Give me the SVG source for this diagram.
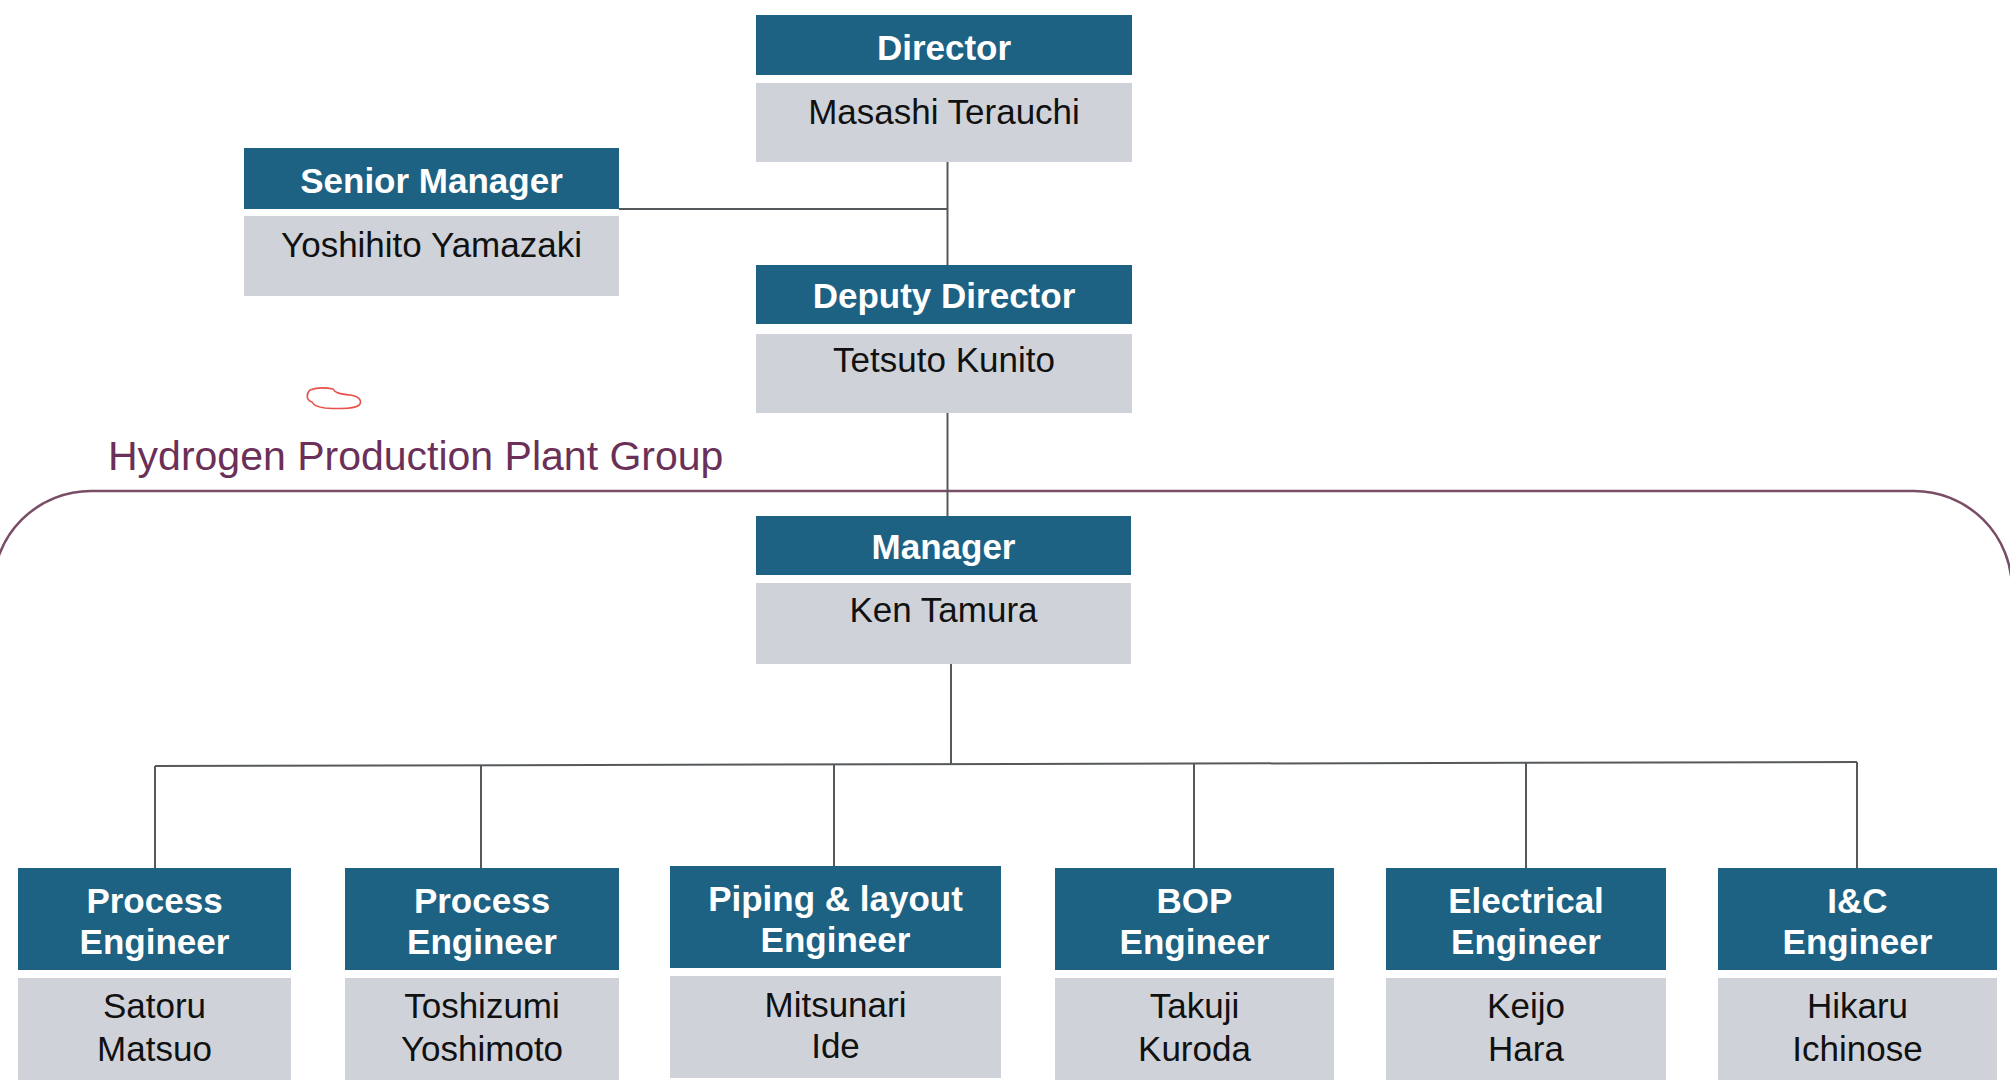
<svg xmlns="http://www.w3.org/2000/svg" width="2010" height="1090" viewBox="0 0 2010 1090">
<style>
.hd{fill:#1d6283;}
.nm{fill:#cfd3d9;}
.ht{font-family:"Liberation Sans",Arial,sans-serif;font-weight:bold;font-size:35px;fill:#ffffff;text-anchor:middle;}
.nt{font-family:"Liberation Sans",Arial,sans-serif;font-size:35px;fill:#111111;text-anchor:middle;}
.cn{stroke:#55595c;stroke-width:2;fill:none;}
.grp{font-family:"Liberation Sans",Arial,sans-serif;font-size:41px;fill:#6b3058;}
</style>
<rect x="0" y="0" width="2010" height="1090" fill="#ffffff"/>
<g id="group-bracket">
<path d="M -7,1100 L -7,589 A 98 98 0 0 1 91,491 L 1914,491 A 98 98 0 0 1 2012,589 L 2012,1100" fill="none" stroke="#7a4d66" stroke-width="2.5"/>
<text class="grp" x="108" y="470">Hydrogen Production Plant Group</text>
</g>
<path id="annotation" d="M310,390 C318,387 328,388 333,389 C335,393 340,394 350,395 C358,396 362,400 360,404 C357,409 340,409 325,408 C316,407 313,404 312,402 C306,400 306,394 310,390 Z" fill="none" stroke="#e8504a" stroke-width="1.6"/>
<g id="connectors">
<line class="cn" x1="947.5" y1="162" x2="947.5" y2="265"/>
<line class="cn" x1="619" y1="209" x2="947.5" y2="209"/>
<line class="cn" x1="947.5" y1="413" x2="947.5" y2="516"/>
<line class="cn" x1="951" y1="664" x2="951" y2="765"/>
<line class="cn" x1="155" y1="766" x2="1857" y2="762"/>
<line class="cn" x1="155" y1="766" x2="155" y2="868"/>
<line class="cn" x1="481" y1="765" x2="481" y2="868"/>
<line class="cn" x1="834" y1="764" x2="834" y2="866"/>
<line class="cn" x1="1194" y1="763" x2="1194" y2="868"/>
<line class="cn" x1="1526" y1="763" x2="1526" y2="868"/>
<line class="cn" x1="1857" y1="762" x2="1857" y2="868"/>
</g>
<g id="director">
<rect class="hd" x="756" y="15" width="376" height="60"/>
<rect class="nm" x="756" y="83" width="376" height="79"/>
<text class="ht" x="944" y="60">Director</text>
<text class="nt" x="944" y="124">Masashi Terauchi</text>
</g>
<g id="senior-manager">
<rect class="hd" x="244" y="148" width="375" height="61"/>
<rect class="nm" x="244" y="216" width="375" height="80"/>
<text class="ht" x="431.5" y="193">Senior Manager</text>
<text class="nt" x="431.5" y="257">Yoshihito Yamazaki</text>
</g>
<g id="deputy-director">
<rect class="hd" x="756" y="265" width="376" height="59"/>
<rect class="nm" x="756" y="334" width="376" height="79"/>
<text class="ht" x="944" y="308">Deputy Director</text>
<text class="nt" x="944" y="372">Tetsuto Kunito</text>
</g>
<g id="manager">
<rect class="hd" x="756" y="516" width="375" height="59"/>
<rect class="nm" x="756" y="583" width="375" height="81"/>
<text class="ht" x="943.5" y="559">Manager</text>
<text class="nt" x="943.5" y="622">Ken Tamura</text>
</g>
<g id="process-engineer-1">
<rect class="hd" x="18" y="868" width="273" height="102"/>
<rect class="nm" x="18" y="978" width="273" height="102"/>
<text class="ht" x="154.5" y="913">Process</text>
<text class="ht" x="154.5" y="954">Engineer</text>
<text class="nt" x="154.5" y="1018">Satoru</text>
<text class="nt" x="154.5" y="1061">Matsuo</text>
</g>
<g id="process-engineer-2">
<rect class="hd" x="345" y="868" width="274" height="102"/>
<rect class="nm" x="345" y="978" width="274" height="102"/>
<text class="ht" x="482" y="913">Process</text>
<text class="ht" x="482" y="954">Engineer</text>
<text class="nt" x="482" y="1018">Toshizumi</text>
<text class="nt" x="482" y="1061">Yoshimoto</text>
</g>
<g id="piping-engineer">
<rect class="hd" x="670" y="866" width="331" height="102"/>
<rect class="nm" x="670" y="976" width="331" height="102"/>
<text class="ht" x="835.5" y="911">Piping &amp; layout</text>
<text class="ht" x="835.5" y="952">Engineer</text>
<text class="nt" x="835.5" y="1017">Mitsunari</text>
<text class="nt" x="835.5" y="1058">Ide</text>
</g>
<g id="bop-engineer">
<rect class="hd" x="1055" y="868" width="279" height="102"/>
<rect class="nm" x="1055" y="978" width="279" height="102"/>
<text class="ht" x="1194.5" y="913">BOP</text>
<text class="ht" x="1194.5" y="954">Engineer</text>
<text class="nt" x="1194.5" y="1018">Takuji</text>
<text class="nt" x="1194.5" y="1061">Kuroda</text>
</g>
<g id="electrical-engineer">
<rect class="hd" x="1386" y="868" width="280" height="102"/>
<rect class="nm" x="1386" y="978" width="280" height="102"/>
<text class="ht" x="1526" y="913">Electrical</text>
<text class="ht" x="1526" y="954">Engineer</text>
<text class="nt" x="1526" y="1018">Keijo</text>
<text class="nt" x="1526" y="1061">Hara</text>
</g>
<g id="ic-engineer">
<rect class="hd" x="1718" y="868" width="279" height="102"/>
<rect class="nm" x="1718" y="978" width="279" height="102"/>
<text class="ht" x="1857.5" y="913">I&amp;C</text>
<text class="ht" x="1857.5" y="954">Engineer</text>
<text class="nt" x="1857.5" y="1018">Hikaru</text>
<text class="nt" x="1857.5" y="1061">Ichinose</text>
</g>
</svg>
